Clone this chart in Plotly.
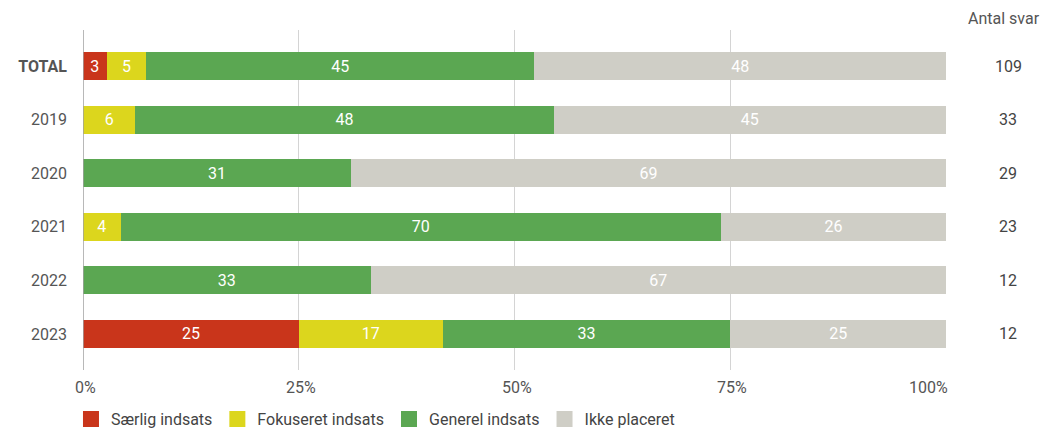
import plotly.graph_objects as go

# ---- data (percent shares) ----
categories = ["TOTAL", "2019", "2020", "2021", "2022", "2023"]
category_labels = ["<b>TOTAL</b>", "2019", "2020", "2021", "2022", "2023"]
series_names = ["Særlig indsats", "Fokuseret indsats", "Generel indsats", "Ikke placeret"]
saerlig = [2.75, 0, 0, 0, 0, 25.0]
fokuseret = [4.59, 6.06, 0, 4.35, 0, 16.67]
generel = [44.95, 48.48, 31.03, 69.57, 33.33, 33.33]
ikke = [47.71, 45.45, 68.97, 26.09, 66.67, 25.0]
antal_svar = [109, 33, 29, 23, 12, 12]
x_tickvals = [0, 25, 50, 75, 100]
x_ticktext = ["0%", "25%", "50%", "75%", "100%"]

colors = ["#c9351b", "#dcd61d", "#5ba752", "#cfcec6"]
FONT = "Roboto"
FS = 16

fig = go.Figure()
for name, vals, col in zip(series_names, [saerlig, fokuseret, generel, ikke], colors):
    fig.add_trace(go.Bar(
        y=categories, x=vals, name=name, orientation="h",
        marker=dict(color=col, line=dict(width=0)),
        width=0.52, legendgroup=name, showlegend=False,
        text=[f"{v:.0f}" if v else "" for v in vals],
        textposition="inside", insidetextanchor="middle",
        textfont=dict(color="white", size=FS, family=FONT),
        hoverinfo="x+name",
    ))
# legend entries with larger square swatches
for name, col in zip(series_names, colors):
    fig.add_trace(go.Scatter(
        x=[None], y=[None], mode="markers", name=name, legendgroup=name,
        marker=dict(symbol="square", size=16, color=col, line=dict(width=0)),
        showlegend=True, hoverinfo="skip",
    ))

annotations = []
# x tick labels
for i, (tv, tt) in enumerate(zip(x_tickvals, x_ticktext)):
    last = i == len(x_tickvals) - 1
    annotations.append(dict(
        x=tv, xref="x", y=0, yref="paper", yshift=-17, yanchor="middle",
        xanchor="right" if last else "center", xshift=4 if last else 2,
        text=tt, showarrow=False, font=dict(size=FS, color="#555", family=FONT)))
# right column
annotations.append(dict(x=1, xref="paper", xshift=96, xanchor="right",
                        y=1, yref="paper", yshift=12,
                        yanchor="middle", text="Antal svar", showarrow=False,
                        font=dict(size=FS, color="#555", family=FONT)))
for i, n in enumerate(antal_svar):
    annotations.append(dict(x=1, xref="paper", xshift=62, xanchor="center",
                            y=i, yref="y",
                            text=str(n), showarrow=False,
                            font=dict(size=FS, color="#444", family=FONT)))

fig.update_layout(
    width=1041, height=422,
    margin=dict(l=75, r=103, t=22, b=60, autoexpand=False),
    barmode="stack",
    plot_bgcolor="white", paper_bgcolor="white",
    font=dict(family=FONT, size=FS, color="#555"),
    xaxis=dict(range=[0, 100], tickvals=x_tickvals, showticklabels=False,
               showgrid=True, gridcolor="#d4d4d4", gridwidth=1,
               zeroline=False, showline=False, fixedrange=True, automargin=False),
    yaxis=dict(categoryorder="array", categoryarray=categories,
               tickvals=categories, ticktext=category_labels,
               range=[5.672, -0.672], showgrid=False, zeroline=False,
               showline=False, ticks="", ticklabelstandoff=15, automargin=False,
               tickfont=dict(size=FS, color="#555", family=FONT)),
    showlegend=True,
    legend=dict(orientation="h", x=0.0605, xref="container", xanchor="left",
                y=0.066, yanchor="top", yref="container", traceorder="normal",
                font=dict(size=FS, color="#444", family=FONT),
                itemclick=False, itemdoubleclick=False, itemsizing="trace",
                bgcolor="rgba(0,0,0,0)"),
    annotations=annotations,
    shapes=[dict(type="line", xref="x", yref="paper", x0=0, x1=0, y0=0, y1=1,
                 line=dict(color="#a0a0a0", width=1.5), layer="above")],
)
fig.write_html("out.html")
